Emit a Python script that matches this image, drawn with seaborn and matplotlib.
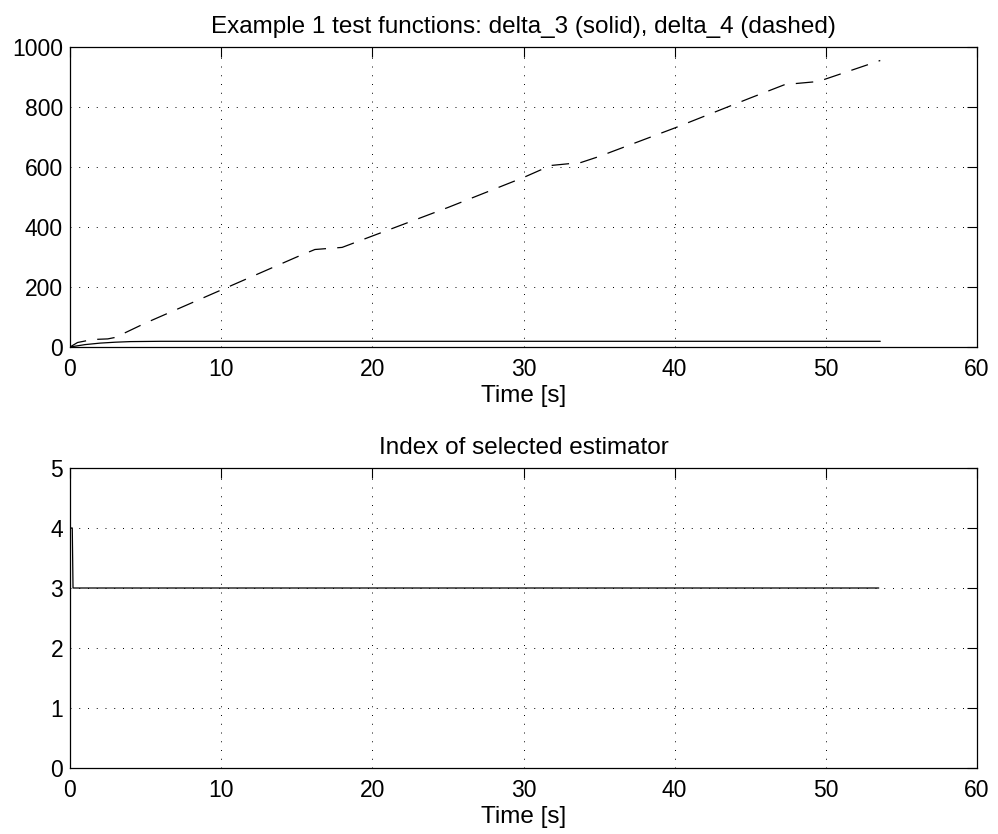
import matplotlib
matplotlib.use("Agg")
import matplotlib.pyplot as plt
import seaborn as sns
import pandas as pd

# delta_3 (solid)
t_d3 = [0, 1, 2, 3, 4, 6, 53.6]
v_d3 = [0, 8, 13, 16, 18, 19, 19]
# delta_4 (dashed)
t_d4 = [0, 0.5, 1.5, 2.5, 3, 5, 10, 15, 16.2, 18, 20, 25, 30, 31.8, 33.8, 35, 40, 45, 47.3, 49.5, 53.6]
v_d4 = [0, 15, 25, 27, 32, 80, 190, 300, 325, 332, 370, 465, 565, 605, 615, 635, 730, 830, 875, 885, 955]
# selected estimator index
t_idx = [0, 0.15, 0.2, 53.5]
v_idx = [4, 4, 3, 3]

top_title = "Example 1 test functions: delta_3 (solid), delta_4 (dashed)"
bot_title = "Index of selected estimator"
xlabel = "Time [s]"

sns.set_style("white")
plt.rcParams['font.family'] = ['Liberation Sans', 'DejaVu Sans']
plt.rcParams['text.color'] = 'black'
plt.rcParams['axes.labelcolor'] = 'black'
plt.rcParams['xtick.color'] = 'black'
plt.rcParams['ytick.color'] = 'black'
FS = 16.5
FS_T = 17.5

fig = plt.figure(figsize=(9.98, 8.34), dpi=100)
W, H = 998, 834
ax1 = fig.add_axes([70 / W, 1 - 347 / H, (977 - 70) / W, 300 / H])
ax2 = fig.add_axes([70 / W, 1 - 768 / H, (977 - 70) / W, 300 / H])

d3 = pd.DataFrame({"t": t_d3, "v": v_d3})
d4 = pd.DataFrame({"t": t_d4, "v": v_d4})
di = pd.DataFrame({"t": t_idx, "v": v_idx})

sns.lineplot(data=d3, x="t", y="v", ax=ax1, color="black", lw=0.9, estimator=None, sort=False)
sns.lineplot(data=d4, x="t", y="v", ax=ax1, color="black", lw=0.9, estimator=None, sort=False,
             linestyle=(0, (14, 9)))
sns.lineplot(data=di, x="t", y="v", ax=ax2, color="black", lw=0.9, estimator=None, sort=False)

for ax, ylim, yt, title in [(ax1, (0, 1000), [0, 200, 400, 600, 800, 1000], top_title),
                            (ax2, (0, 5), [0, 1, 2, 3, 4, 5], bot_title)]:
    ax.set_xlim(0, 60)
    ax.set_ylim(*ylim)
    ax.set_xticks([0, 10, 20, 30, 40, 50, 60])
    ax.set_yticks(yt)
    ax.set_title(title, fontsize=FS_T, pad=10, color="black")
    ax.set_xlabel(xlabel, fontsize=FS_T, labelpad=3, color="black")
    ax.set_ylabel("")
    ax.tick_params(direction="in", top=True, right=True, length=7, width=0.8,
                   labelsize=FS, colors="black")
    ax.tick_params(axis="x", pad=8)
    ax.tick_params(axis="y", pad=5)
    ax.grid(True, color="black", linestyle=(0, (1, 8)), linewidth=0.7)
    for s in ax.spines.values():
        s.set_color("black")
        s.set_linewidth(0.9)
        s.set_visible(True)

fig.savefig("out.png", dpi=100, facecolor="white")
